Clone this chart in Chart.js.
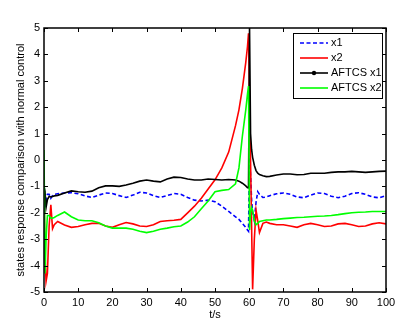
<!DOCTYPE html>
<html>
<head>
<meta charset="utf-8">
<script src="https://cdn.jsdelivr.net/npm/chart.js@4"></script>
<style>
  html, body { margin: 0; padding: 0; background: #fff; }
  #wrap { width: 417px; height: 333px; }
</style>
</head>
<body>
<div id="wrap"><canvas id="states" width="417" height="333"></canvas></div>
<script>
// time axis (s), shared by all four series
const tSec = [0, 0.3, 0.6, 1, 1.5, 2, 2.5, 3, 4, 6, 8, 10, 12, 14, 16, 18, 20, 22, 24, 26, 28, 30,
  32, 34, 36, 38, 40, 42, 44, 46, 48, 50, 52, 54, 56, 57, 58, 59, 59.5, 59.8, 60.1, 60.4, 60.7,
  61, 61.5, 62, 62.5, 63, 64, 65, 66, 68, 70, 72, 74, 76, 78, 80, 82, 84, 86, 88, 90, 92, 94,
  96, 98, 100];

const x1 = [-0.8, -1.8, -1.5, -1.3, -1.3, -1.45, -1.35, -1.3, -1.28, -1.25, -1.24, -1.28, -1.36,
  -1.42, -1.33, -1.25, -1.27, -1.35, -1.42, -1.33, -1.22, -1.25, -1.35, -1.42, -1.35, -1.27,
  -1.3, -1.42, -1.52, -1.55, -1.52, -1.58, -1.75, -1.95, -2.15, -2.25, -2.4, -2.55, -2.65, -2.7,
  0.1, -0.6, -1.5, -2.0, -2.3, -1.6, -1.2, -1.3, -1.42, -1.4, -1.35, -1.28, -1.25, -1.3, -1.4,
  -1.43, -1.33, -1.25, -1.27, -1.37, -1.43, -1.37, -1.27, -1.24, -1.3, -1.4, -1.43, -1.35];

const x2 = [-1.0, -3.5, -4.6, -4.3, -2.5, -1.7, -2.6, -2.45, -2.33, -2.46, -2.55, -2.52, -2.45,
  -2.4, -2.4, -2.5, -2.55, -2.45, -2.37, -2.42, -2.5, -2.52, -2.45, -2.33, -2.3, -2.28, -2.25,
  -2.0, -1.75, -1.45, -1.1, -0.75, -0.3, 0.3, 1.3, 1.9, 2.7, 3.7, 4.3, 4.8, null, null, null,
  -4.9, -3.0, -1.9, -2.3, -2.75, -2.4, -2.35, -2.4, -2.45, -2.45, -2.5, -2.55, -2.45, -2.4,
  -2.45, -2.52, -2.5, -2.42, -2.4, -2.45, -2.52, -2.5, -2.42, -2.38, -2.42];

const aftcsX1 = [-1.0, -1.2, -1.8, -1.5, -1.38, -1.4, -1.38, -1.36, -1.34, -1.25, -1.17, -1.2,
  -1.22, -1.18, -1.05, -0.98, -0.98, -1.0, -0.95, -0.88, -0.8, -0.76, -0.8, -0.83, -0.72, -0.65,
  -0.66, -0.72, -0.76, -0.76, -0.72, -0.74, -0.76, -0.74, -0.76, -0.8, -0.88, -0.98, -1.05, -1.05,
  5.0, 1.0, 0.4, 0.1, -0.2, -0.4, -0.5, -0.55, -0.6, -0.63, -0.62, -0.57, -0.53, -0.53, -0.56,
  -0.55, -0.5, -0.5, -0.5, -0.47, -0.45, -0.45, -0.43, -0.45, -0.47, -0.45, -0.43, -0.42];

const aftcsX2 = [0.38, -4.3, -3.0, -2.1, -2.1, -2.2, -2.2, -2.18, -2.1, -1.97, -2.15, -2.27, -2.3,
  -2.3, -2.38, -2.5, -2.58, -2.58, -2.58, -2.62, -2.7, -2.75, -2.7, -2.62, -2.58, -2.53, -2.5,
  -2.35, -2.15, -1.85, -1.55, -1.2, -1.15, -1.12, -0.9, -0.3, 0.9, 1.9, 2.5, 2.8, -2.65, -2.0,
  -1.8, -1.9, -2.3, -2.45, -2.4, -2.33, -2.3, -2.27, -2.27, -2.25, -2.22, -2.2, -2.18, -2.17,
  -2.15, -2.13, -2.12, -2.1, -2.07, -2.03, -2.0, -1.98, -1.97, -1.95, -1.95, -1.95];

const xTicks = [0, 10, 20, 30, 40, 50, 60, 70, 80, 90, 100];
const yTicks = [-5, -4, -3, -2, -1, 0, 1, 2, 3, 4, 5];

function pts(vals) {
  return tSec.map(function(t, i) { return {x: t, y: vals[i]}; });
}

const FONT = 'Arial, "Liberation Sans", Helvetica, sans-serif';

// MATLAB style box: inward ticks on all four sides plus the legend box
const matlabFrame = {
  id: 'matlabFrame',
  afterDatasetsDraw(chart) {
    const ctx = chart.ctx;
    const a = chart.chartArea;
    const sx = chart.scales.x, sy = chart.scales.y;
    ctx.save();
    ctx.strokeStyle = '#000';
    ctx.lineWidth = 1.5;
    ctx.strokeRect(a.left, a.top, a.right - a.left, a.bottom - a.top);
    ctx.lineWidth = 1;
    ctx.beginPath();
    xTicks.forEach(function(v) {
      const px = Math.round(sx.getPixelForValue(v)) + 0.5;
      ctx.moveTo(px, a.bottom); ctx.lineTo(px, a.bottom - 4);
      ctx.moveTo(px, a.top); ctx.lineTo(px, a.top + 4);
    });
    yTicks.forEach(function(v) {
      const py = Math.round(sy.getPixelForValue(v)) + 0.5;
      ctx.moveTo(a.left, py); ctx.lineTo(a.left + 4, py);
      ctx.moveTo(a.right, py); ctx.lineTo(a.right - 4, py);
    });
    ctx.stroke();

    // legend
    const lx = 293, ly = 33, lw = 89, lh = 65;
    ctx.fillStyle = '#fff';
    ctx.fillRect(lx, ly, lw, lh);
    ctx.lineWidth = 1;
    ctx.strokeRect(lx + 0.5, ly + 0.5, lw, lh);
    ctx.font = '11px ' + FONT;
    ctx.textBaseline = 'middle';
    chart.data.datasets.forEach(function(ds, i) {
      const y = ly + 10 + i * 15;
      ctx.beginPath();
      ctx.strokeStyle = ds.borderColor;
      ctx.lineWidth = 1.6;
      ctx.setLineDash(ds.borderDash || []);
      ctx.moveTo(lx + 7, y); ctx.lineTo(lx + 35, y);
      ctx.stroke();
      ctx.setLineDash([]);
      if (ds.label === 'AFTCS x1') {
        ctx.fillStyle = ds.borderColor;
        ctx.beginPath();
        ctx.arc(lx + 21, y, 2.2, 0, Math.PI * 2);
        ctx.fill();
      }
      ctx.fillStyle = '#000';
      ctx.fillText(ds.label, lx + 38, y);
    });
    ctx.restore();
  }
};

const ctx = document.getElementById('states');

const chart = new Chart(ctx, {
  type: 'line',
  data: {
    datasets: [
      {
        label: 'x1',
        data: pts(x1),
        borderColor: '#0000ff',
        borderDash: [4, 2.5],
        order: 4
      },
      {
        label: 'x2',
        data: pts(x2),
        borderColor: '#ff0000',
        order: 3
      },
      {
        label: 'AFTCS x1',
        data: pts(aftcsX1),
        borderColor: '#000000',
        order: 2
      },
      {
        label: 'AFTCS x2',
        data: pts(aftcsX2),
        borderColor: '#00ff00',
        order: 1
      }
    ]
  },
  options: {
    responsive: false,
    animation: false,
    spanGaps: true,
    elements: {
      point: { radius: 0, hoverRadius: 0 },
      line: { borderWidth: 1.6, tension: 0, fill: false }
    },
    layout: { padding: { left: 0, right: 31, top: 28, bottom: 0 } },
    plugins: {
      legend: { display: false },
      tooltip: { enabled: false }
    },
    scales: {
      x: {
        type: 'linear',
        min: 0,
        max: 100,
        afterBuildTicks: function(s) { s.ticks = xTicks.map(function(v) { return {value: v}; }); },
        afterFit: function(s) { s.height = 41; },
        grid: { display: false, drawTicks: false },
        border: { display: false },
        ticks: { padding: 4, color: '#000', font: { size: 11, family: FONT }, maxRotation: 0 },
        title: {
          display: true,
          text: 't/s',
          color: '#000',
          font: { size: 11, family: FONT },
          padding: { top: 0, bottom: 11 }
        }
      },
      y: {
        type: 'linear',
        min: -5,
        max: 5,
        afterBuildTicks: function(s) { s.ticks = yTicks.map(function(v) { return {value: v}; }); },
        afterFit: function(s) { s.width = 44; },
        grid: { display: false, drawTicks: false },
        border: { display: false },
        ticks: { padding: 4, color: '#000', font: { size: 11, family: FONT } },
        title: {
          display: true,
          text: 'states response comparison with normal control',
          color: '#000',
          font: { size: 11, family: FONT },
          padding: { top: 14, bottom: 0 }
        }
      }
    }
  },
  plugins: [matlabFrame]
});
</script>
</body>
</html>
